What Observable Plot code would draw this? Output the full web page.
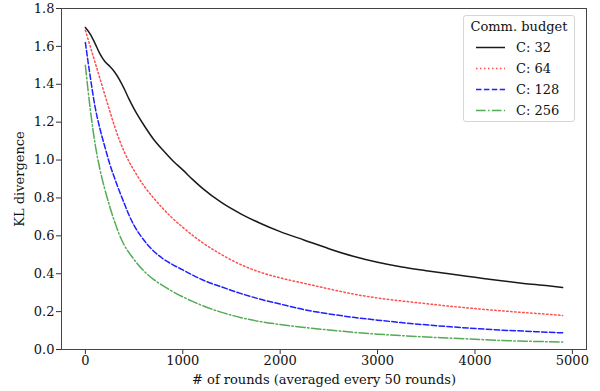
<!DOCTYPE html>
<html>
<head>
<meta charset="utf-8">
<script src="https://cdn.jsdelivr.net/npm/d3@7"></script>
<script src="https://cdn.jsdelivr.net/npm/@observablehq/plot@0.6"></script>
<style>
  body { margin: 0; background: #fff; }
  #wrap { position: relative; width: 600px; height: 391px; font-family: "DejaVu Serif", serif; }
  #legend {
    position: absolute; left: 463px; top: 15px; width: 112px; height: 107px;
    border: 1px solid #d6d6d6; border-radius: 3px; background: rgba(255,255,255,0.85);
    font-size: 13px; color: #111; box-sizing: border-box;
  }
  #legend .title { text-align: center; line-height: 21px; }
  #legend .row { display: flex; align-items: center; height: 21px; }
  #legend .row svg { margin-left: 12px; }
  #legend .row span { margin-left: 11px; }
</style>
</head>
<body>
<div id="wrap"><div id="chart"></div><div id="legend"></div></div>
<script>
const rounds = [0,50,100,150,200,250,300,350,400,450,500,600,700,800,900,1000,1100,1200,1400,1600,1800,2000,2250,2500,2750,3000,3250,3500,3750,4000,4250,4500,4750,4900];
const c32  = [1.70,1.665,1.615,1.56,1.52,1.495,1.465,1.425,1.375,1.32,1.27,1.185,1.11,1.05,0.995,0.948,0.898,0.852,0.775,0.715,0.665,0.622,0.577,0.532,0.492,0.46,0.435,0.416,0.398,0.381,0.364,0.349,0.336,0.327];
const c64  = [1.685,1.60,1.515,1.43,1.345,1.26,1.178,1.105,1.043,0.99,0.945,0.865,0.80,0.742,0.69,0.645,0.603,0.565,0.50,0.447,0.407,0.378,0.349,0.32,0.293,0.272,0.256,0.242,0.228,0.216,0.205,0.195,0.186,0.180];
const c128 = [1.62,1.44,1.28,1.165,1.07,0.98,0.905,0.835,0.77,0.707,0.655,0.578,0.52,0.478,0.447,0.42,0.393,0.368,0.33,0.295,0.265,0.24,0.21,0.188,0.17,0.155,0.142,0.13,0.12,0.111,0.103,0.097,0.091,0.088];
const c256 = [1.50,1.27,1.085,0.95,0.845,0.755,0.675,0.605,0.55,0.51,0.475,0.415,0.37,0.336,0.305,0.278,0.254,0.232,0.196,0.168,0.147,0.132,0.116,0.103,0.091,0.081,0.073,0.066,0.06,0.054,0.048,0.044,0.041,0.039];
const seriesNames = ["C: 32","C: 64","C: 128","C: 256"];
const seriesValues = [c32, c64, c128, c256];
const colors = ["#1a1a1a","#ff4d4d","#1f1fff","#55aa55"];
const dashes = [null, "1.5,2.5", "5.5,2.4", "9.6,2.4,1.5,2.4"];
const xTicks = [0,1000,2000,3000,4000,5000];
const yTicks = [0,0.2,0.4,0.6,0.8,1.0,1.2,1.4,1.6,1.8];
const legendTitle = "Comm. budget";

const data = [];
seriesNames.forEach((s, i) => rounds.forEach((r, j) => data.push({series: s, idx: i, round: r, kl: seriesValues[i][j]})));

const chart = Plot.plot({
  width: 600, height: 391,
  marginLeft: 61, marginRight: 14, marginTop: 8, marginBottom: 42,
  style: {fontFamily: "DejaVu Serif, serif", fontSize: "13px", color: "#111", background: "#fff"},
  x: {domain: [-245, 5145]},
  y: {domain: [0, 1.8]},
  marks: [
    Plot.axisX({ticks: xTicks, tickFormat: d => String(d), tickSize: 5, tickPadding: 1,
      label: "# of rounds (averaged every 50 rounds)", labelAnchor: "center", labelArrow: "none", labelOffset: 34, stroke: "#333"}),
    Plot.axisY({ticks: yTicks, tickFormat: d => d.toFixed(1), tickSize: 5, tickPadding: 2,
      label: "KL divergence", labelAnchor: "center", labelArrow: "none", labelOffset: 47, stroke: "#333"}),
    ...seriesNames.map((s, i) => Plot.line(data.filter(d => d.idx === i), {
      x: "round", y: "kl", stroke: colors[i], strokeWidth: 1.5,
      strokeDasharray: dashes[i] || undefined, curve: "monotone-x"
    })),
    Plot.frame({stroke: "#444", strokeWidth: 1})
  ]
});
document.getElementById("chart").appendChild(chart);

const legend = document.getElementById("legend");
const t = document.createElement("div");
t.className = "title"; t.textContent = legendTitle;
legend.appendChild(t);
seriesNames.forEach((s, i) => {
  const row = document.createElement("div");
  row.className = "row";
  const da = dashes[i] ? ` stroke-dasharray="${dashes[i]}"` : "";
  row.innerHTML = `<svg width="29" height="21"><line x1="0" x2="29" y1="10.5" y2="10.5" stroke="${colors[i]}" stroke-width="1.5"${da}/></svg><span>${s}</span>`;
  legend.appendChild(row);
});
</script>
</body>
</html>
